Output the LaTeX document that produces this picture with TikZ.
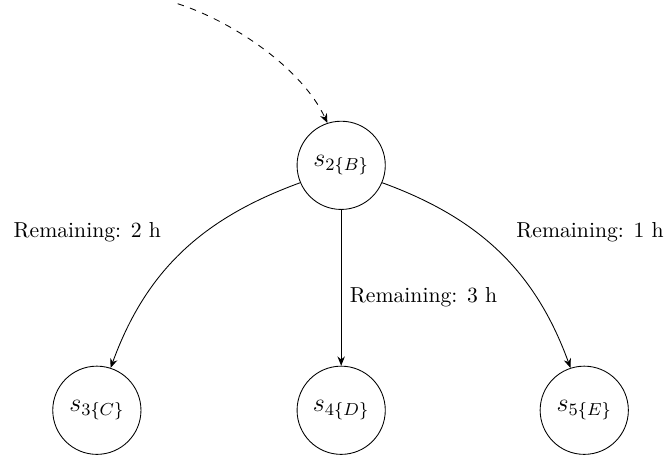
\documentclass[tikz,border=0pt]{standalone}
\usepackage{amsmath}
\usetikzlibrary{arrows.meta}

\begin{document}
\begin{tikzpicture}[state/.style={draw, circle, minimum size=1.43cm, inner sep=0pt, font=\large},
        trans/.style={-{Stealth[length=1.5mm,width=1.2mm]}},
        remain/.style={inner sep=1pt}]

        \useasboundingbox (0,0) rectangle (10.86,7.57);

        \coordinate (init) at (2.88,7.51);

        \node[state] (s2) at (5.53,4.89) {$s_{2\{B\}}$};
        \node[state] (s3) at (1.57,0.92) {$s_{3\{C\}}$};
        \node[state] (s4) at (5.53,0.92) {$s_{4\{D\}}$};
        \node[state] (s5) at (9.47,0.92) {$s_{5\{E\}}$};

        \draw[trans, dashed] (init) to[out=-18, in=115, looseness=0.8] (s2.108);

        \draw[trans] (s2.203) to[out=200, in=70] (s3.72);
        \draw[trans] (s2) -- (s4);
        \draw[trans] (s2.-23) to[out=-20, in=110] (s5.108);

        \node[remain, anchor=west] (r2) at (0.18,3.81) {Remaining: 2 h};
        \node[remain, anchor=west] (r4) at (5.63,2.75) {Remaining: 3 h};
        \node[remain, anchor=east] (r1) at (10.80,3.81) {Remaining: 1 h};

    \end{tikzpicture}
\end{document}
